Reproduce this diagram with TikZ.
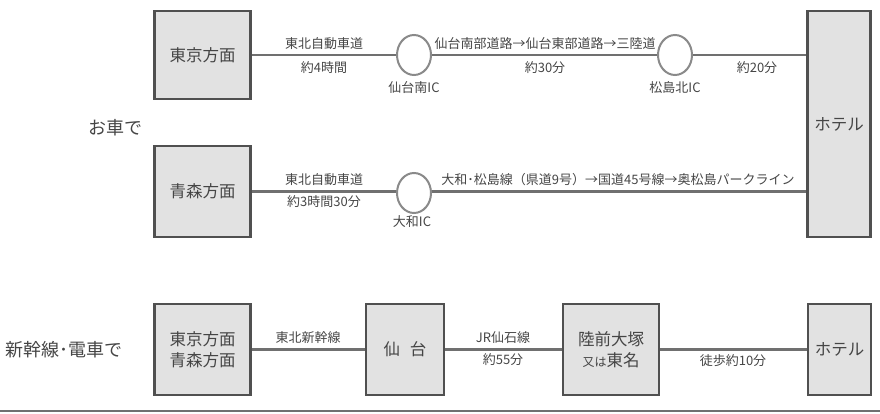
\documentclass[tikz,border=0pt]{standalone}
\usepackage{xcolor}
\usepackage{fontspec}
\setmainfont{Noto Sans CJK JP}
\usepackage{tikz}
\usetikzlibrary{shapes.geometric}

\definecolor{boxfill}{HTML}{E2E2E2}
\definecolor{boxline}{HTML}{505050}
\definecolor{roadline}{HTML}{707070}
\definecolor{ringline}{HTML}{8A8A8A}
\definecolor{txt}{HTML}{454545}

\begin{document}
\begin{tikzpicture}[x=1pt,y=-1pt,
			placebox/.style={draw=boxline,fill=boxfill,line width=2.6pt,text=txt,
				font=\fontsize{16.5}{21}\selectfont,inner sep=0pt,align=center},
			icring/.style={ellipse,draw=ringline,fill=white,line width=2pt,
				minimum width=34pt,minimum height=40pt,inner sep=0pt},
			road/.style={draw=roadline,line width=2.6pt},
			lbl/.style={text=txt,font=\fontsize{13}{15}\selectfont,inner sep=0pt},
			heading/.style={text=txt,font=\fontsize{18}{22}\selectfont,inner sep=0pt}]
	\useasboundingbox (0,0) rectangle (880,414);
	% by car
	\node[heading] (car) at (115,128) {お車で};
	\node[placebox,minimum width=96pt,minimum height=88pt] (tokyo) at (202.5,55) {東京方面};
	\node[placebox,minimum width=96pt,minimum height=91pt] (aomori) at (202.5,191.5) {青森方面};
	\node[placebox,minimum width=63pt,minimum height=226pt] (hotel) at (839,124) {ホテル};
	\node[icring] (sendaiminami) at (414,55) {};
	\node[icring] (matsushima) at (675,55) {};
	\node[icring] (taiwa) at (414,193) {};
	\draw[road] (tokyo) -- (sendaiminami);
	\draw[road] (sendaiminami) -- (matsushima);
	\draw[road] (matsushima.east) -- (matsushima.east -| hotel.west);
	\draw[road] (aomori.east) -- (taiwa.west |- aomori.east);
	\draw[road] (taiwa.east |- aomori.east) -- (hotel.west |- aomori.east);
	\node[lbl] (l1) at (324,44) {東北自動車道};
	\node[lbl] (l2) at (324,68) {約4時間};
	\node[lbl] (l3) at (414,88) {仙台南IC};
	\node[lbl] (l4) at (545,44) {仙台南部道路→仙台東部道路→三陸道};
	\node[lbl] (l5) at (545,68) {約30分};
	\node[lbl] (l6) at (675,88) {松島北IC};
	\node[lbl] (l7) at (757,68) {約20分};
	\node[lbl] (l8) at (324,180) {東北自動車道};
	\node[lbl] (l9) at (324,202) {約3時間30分};
	\node[lbl] (l10) at (412,222) {大和IC};
	\node[lbl] (l11) at (618,180) {大和･松島線（県道9号）→国道45号線→奥松島パークライン};
	% by train
	\node[heading] (train) at (64,350) {新幹線･電車で};
	\node[placebox,minimum width=96pt,minimum height=91pt] (origin) at (202.5,349.5) {東京方面\\青森方面};
	\node[placebox,minimum width=78pt,minimum height=91pt] (sendai) at (405,349.5) {仙\hspace{0.6em}台};
	\node[placebox,minimum width=96pt,minimum height=91pt] (rikuzen) at (611,349.5)
		{陸前大塚\\{\fontsize{12}{14}\selectfont 又は}東名};
	\node[placebox,minimum width=63pt,minimum height=91pt] (hotel2) at (839.5,349.5) {ホテル};
	\draw[road] (origin) -- (sendai);
	\draw[road] (sendai) -- (rikuzen);
	\draw[road] (rikuzen) -- (hotel2);
	\node[lbl] (m1) at (308,338) {東北新幹線};
	\node[lbl] (m2) at (503,338) {JR仙石線};
	\node[lbl] (m3) at (503,360) {約55分};
	\node[lbl] (m4) at (733,361) {徒歩約10分};
	\draw[roadline,line width=2.4pt] (0,411) -- (880,411);
\end{tikzpicture}
\end{document}
